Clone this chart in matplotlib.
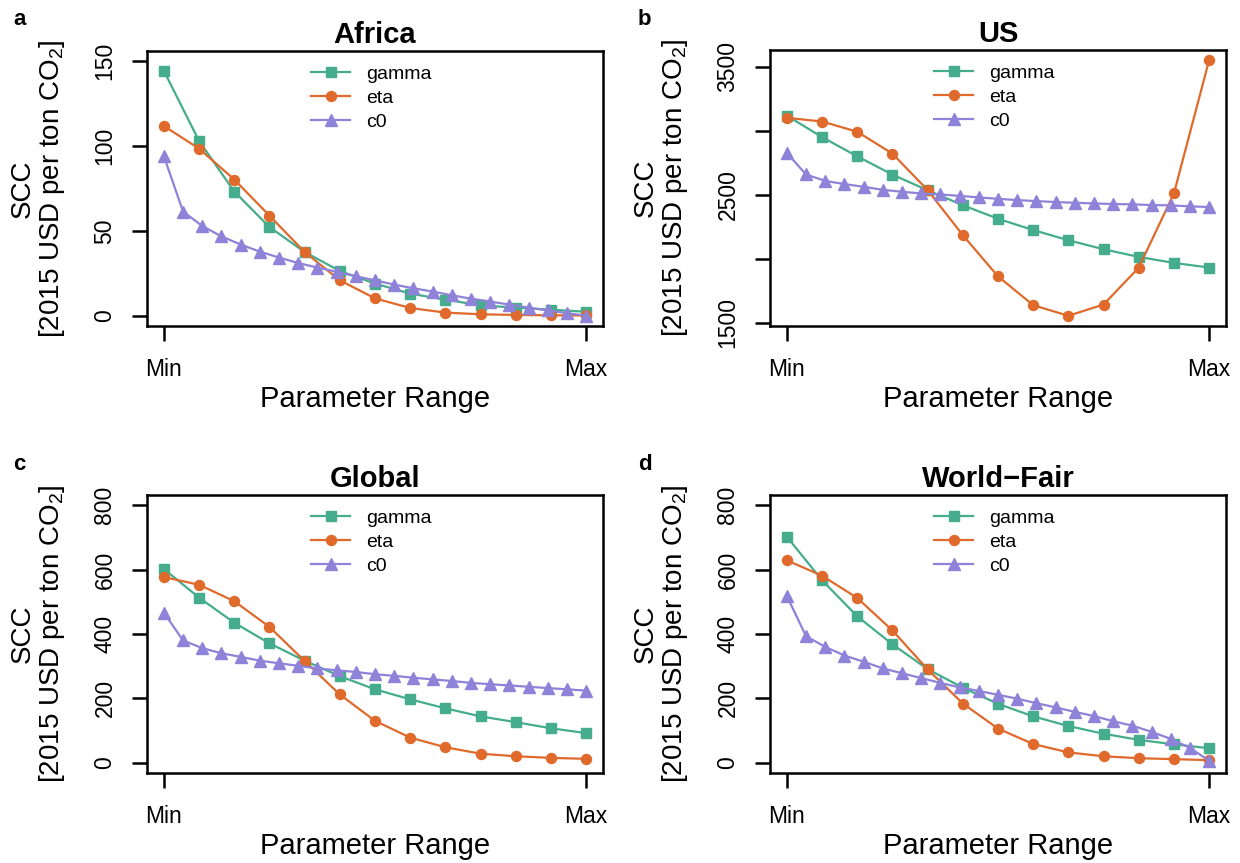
import numpy as np
import matplotlib
matplotlib.use('Agg')
from matplotlib import pyplot as plt

plt.rcParams['font.family'] = ['Liberation Sans', 'DejaVu Sans']
plt.rcParams['mathtext.fontset'] = 'custom'
plt.rcParams['mathtext.rm'] = 'Liberation Sans'
plt.rcParams['mathtext.default'] = 'regular'

FIG_W, FIG_H = 1240, 863

# parameter positions (Min .. Max)
X_COARSE = np.arange(13) / 12
X_FINE = np.arange(23) / 22

AFRICA_GAMMA = [144.3, 103.0, 73.2, 52.3, 37.6, 26.4, 19.0, 13.1, 9.5, 6.2, 4.8, 3.6, 2.4]
AFRICA_ETA = [111.8, 98.5, 80.3, 59.0, 37.6, 20.9, 10.3, 4.6, 1.9, 0.9, 0.5, 0.3, 0.2]
AFRICA_C0 = [94.0, 61.4, 52.9, 46.8, 42.0, 37.8, 34.3, 31.1, 28.4, 26.0, 23.3, 20.9,
             18.4, 16.2, 14.3, 12.1, 10.1, 8.4, 6.6, 4.8, 3.2, 1.6, 0.1]

US_GAMMA = [3118, 2950, 2800, 2657, 2535, 2418, 2312, 2224, 2144, 2074, 2014, 1967, 1931]
US_ETA = [3101, 3072, 2992, 2821, 2536, 2184, 1862, 1637, 1554, 1642, 1930, 2510, 3551]
US_C0 = [2826, 2658, 2608, 2583, 2562, 2538, 2523, 2510, 2502, 2491, 2479, 2468,
         2458, 2450, 2443, 2437, 2432, 2427, 2425, 2419, 2417, 2409, 2404]

GLOBAL_GAMMA = [602, 513, 435, 371, 317, 269, 228, 197, 169, 144, 126, 107, 92]
GLOBAL_ETA = [577, 553, 502, 422, 316, 212, 130, 78, 48, 28, 20, 15, 12]
GLOBAL_C0 = [466, 380, 356, 340, 329, 317, 309, 301, 293, 287, 282, 275,
             270, 264, 259, 254, 248, 244, 240, 236, 232, 228, 224]

WF_GAMMA = [702, 567, 455, 368, 291, 233, 183, 144, 114, 90, 71, 57, 45]
WF_ETA = [629, 581, 512, 411, 290, 184, 106, 58, 32, 20, 14, 11, 8]
WF_C0 = [518, 393, 360, 333, 314, 293, 278, 263, 248, 234, 223, 211,
         199, 185, 172, 158, 145, 129, 115, 96, 74, 46, 6]

GAMMA_COLOR = '#45AD8B'
ETA_COLOR = '#DF6A2C'
C0_COLOR = '#8E82D9'

YLABEL_1 = 'SCC'
YLABEL_2 = '[2015 USD per ton CO$_2$]'


def draw_panel(ax, title, gamma, eta, c0, yticks, yticklabels, ylim=None):
    ax.plot(X_COARSE, gamma, color=GAMMA_COLOR, marker='s', ms=7.4, lw=1.6, label='gamma')
    ax.plot(X_COARSE, eta, color=ETA_COLOR, marker='o', ms=7.2, lw=1.6, label='eta')
    ax.plot(X_FINE, c0, color=C0_COLOR, marker='^', ms=8.2, lw=1.6, label='c0')

    ax.set_xlim(-0.04, 1.04)
    if ylim is None:
        allv = list(gamma) + list(eta) + list(c0)
        ylim = (min(allv), max(allv))
    r = ylim[1] - ylim[0]
    ax.set_ylim(ylim[0] - 0.04 * r, ylim[1] + 0.04 * r)

    ax.set_xticks([X_COARSE[0], X_COARSE[-1]], ['Min', 'Max'])
    ax.set_yticks(yticks, yticklabels)
    for s in ax.spines.values():
        s.set_linewidth(1.8)
    ax.tick_params(axis='both', direction='out', length=11, width=1.8, labelsize=16.5)
    ax.tick_params(axis='x', pad=12)
    ax.tick_params(axis='y', pad=11)
    for lab in ax.get_yticklabels():
        lab.set_rotation(90)
        lab.set_va('center')

    ax.set_title(title, fontsize=21, fontweight='bold', pad=6)

    h_px = ax.get_position().height * FIG_H
    w_px = ax.get_position().width * FIG_W
    ax.set_xlabel('Parameter Range', fontsize=21, va='top')
    ax.xaxis.set_label_coords(0.5, -59 / h_px)
    ax.text(-124 / w_px, 0.5, YLABEL_1, transform=ax.transAxes, rotation=90,
            ha='center', va='center', fontsize=20)
    ax.text(-95 / w_px, 0.5, YLABEL_2, transform=ax.transAxes, rotation=90,
            ha='center', va='center', fontsize=20)

    ax.legend(loc='upper left', bbox_to_anchor=(0.36, 0.948), frameon=False, fontsize=14,
              handlelength=2.0, handletextpad=0.85, labelspacing=0.32,
              borderpad=0, borderaxespad=0)


def main():
    fig = plt.figure(figsize=(FIG_W / 100, FIG_H / 100), dpi=100)
    ax_a = fig.add_axes([147 / FIG_W, 1 - 326 / FIG_H, 456 / FIG_W, 275 / FIG_H])
    ax_b = fig.add_axes([770 / FIG_W, 1 - 326 / FIG_H, 456 / FIG_W, 276 / FIG_H])
    ax_c = fig.add_axes([147 / FIG_W, 1 - 773 / FIG_H, 456 / FIG_W, 278 / FIG_H])
    ax_d = fig.add_axes([770 / FIG_W, 1 - 773 / FIG_H, 456 / FIG_W, 278 / FIG_H])

    draw_panel(ax_a, 'Africa', AFRICA_GAMMA, AFRICA_ETA, AFRICA_C0,
               [0, 50, 100, 150], ['0', '50', '100', '150'], ylim=(0, 150))
    draw_panel(ax_b, 'US', US_GAMMA, US_ETA, US_C0,
               [1500, 2000, 2500, 3000, 3500], ['1500', '', '2500', '', '3500'])
    draw_panel(ax_c, 'Global', GLOBAL_GAMMA, GLOBAL_ETA, GLOBAL_C0,
               [0, 200, 400, 600, 800], ['0', '200', '400', '600', '800'], ylim=(0, 800))
    draw_panel(ax_d, 'World\u2212Fair', WF_GAMMA, WF_ETA, WF_C0,
               [0, 200, 400, 600, 800], ['0', '200', '400', '600', '800'], ylim=(0, 800))

    for letter, (x, y) in zip('abcd', [(13, 25), (638, 25), (13, 470), (638, 470)]):
        fig.text(x / FIG_W, 1 - y / FIG_H, letter, fontsize=16, fontweight='bold',
                 ha='left', va='baseline')

    fig.savefig('out.png', dpi=100)


if __name__ == '__main__':
    main()
